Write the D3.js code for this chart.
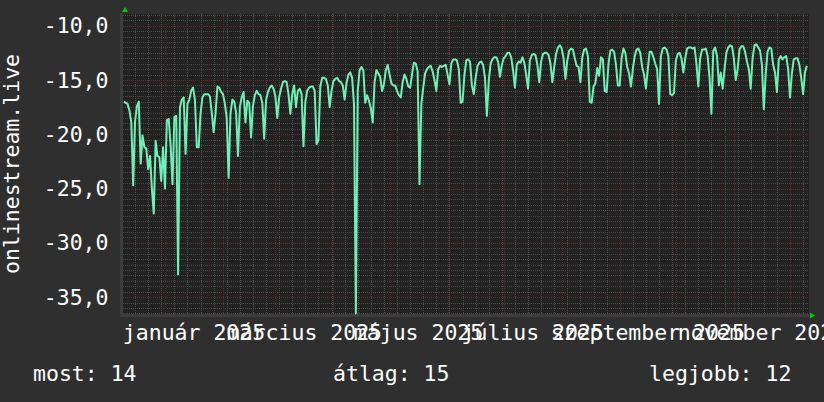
<!DOCTYPE html>
<html><head><meta charset="utf-8">
<script src="https://cdn.jsdelivr.net/npm/d3@7"></script>
<style>html,body{margin:0;padding:0;background:#2f2f2f;}svg{display:block;}</style>
</head><body>
<script>
// ---- data ----
const startDate = Date.UTC(2024, 11, 10);   // first daily sample
const values = [
-17.0,-17.1,-17.2,-17.8,-18.9,-24.7,-18.8,-17.4,-17.0,-22.7,
-20.1,-21.2,-21.3,-23.2,-22.0,-25.0,-27.3,-20.6,-22.0,-22.1,
-24.3,-21.2,-25.0,-18.7,-18.6,-21.0,-24.6,-18.4,-18.3,-32.9,
-17.5,-16.8,-16.6,-21.8,-17.2,-16.8,-16.0,-15.7,-16.8,-21.2,
-21.2,-18.1,-16.6,-16.3,-16.3,-16.3,-16.5,-18.0,-19.8,-18.1,
-15.6,-15.7,-16.1,-16.3,-17.2,-18.5,-24.0,-18.1,-16.8,-17.0,
-18.0,-22.0,-17.5,-16.6,-16.1,-18.9,-16.9,-17.1,-20.3,-17.4,
-16.4,-16.0,-16.3,-16.4,-17.1,-20.4,-16.9,-16.1,-15.7,-15.5,
-15.8,-16.5,-18.5,-16.6,-15.8,-15.2,-15.1,-15.2,-16.3,-18.1,
-16.3,-15.5,-17.5,-16.0,-15.8,-16.3,-21.1,-17.0,-16.0,-15.7,
-15.6,-15.6,-16.0,-20.9,-20.5,-15.6,-14.8,-14.8,-14.9,-15.5,
-17.5,-16.0,-15.1,-14.9,-14.8,-15.1,-15.2,-15.5,-16.8,-15.3,
-14.5,-14.3,-14.8,-17.2,-36.5,-16.0,-14.1,-13.8,-14.1,-17.1,
-16.4,-16.9,-17.6,-18.9,-15.2,-14.1,-14.4,-14.7,-16.0,-15.4,
-14.1,-13.6,-14.5,-15.3,-15.5,-15.5,-16.0,-16.4,-16.6,-15.2,
-14.5,-14.9,-15.6,-15.7,-14.5,-13.4,-13.5,-14.2,-24.6,-17.2,
-15.7,-14.4,-14.0,-13.8,-13.7,-14.2,-15.0,-16.0,-14.0,-13.7,
-13.8,-13.7,-13.6,-14.5,-15.4,-13.5,-13.1,-13.1,-13.2,-14.0,
-17.1,-17.0,-14.6,-13.2,-13.1,-13.3,-15.5,-16.3,-14.8,-13.7,
-13.4,-13.3,-13.6,-14.8,-18.3,-15.1,-13.5,-13.1,-12.9,-12.9,
-13.3,-14.7,-13.6,-13.0,-12.8,-12.5,-12.5,-12.9,-14.1,-15.7,
-13.6,-13.3,-13.4,-12.9,-13.4,-14.5,-15.8,-13.2,-12.7,-12.6,
-12.7,-13.6,-15.2,-13.3,-12.6,-12.5,-12.5,-12.7,-13.5,-15.2,
-13.8,-12.6,-12.0,-11.8,-12.1,-13.0,-14.9,-13.2,-12.3,-12.1,
-12.2,-13.0,-13.7,-13.8,-15.2,-12.9,-12.2,-12.1,-12.8,-17.0,
-17.1,-15.6,-15.3,-13.9,-14.6,-12.9,-13.1,-16.0,-16.1,-13.5,
-12.3,-12.2,-12.4,-13.6,-15.5,-15.5,-13.0,-12.1,-12.5,-13.8,
-14.4,-15.6,-14.0,-12.8,-12.2,-12.1,-12.5,-13.8,-14.5,-15.8,
-14.0,-12.4,-12.4,-12.9,-13.5,-14.0,-17.2,-12.8,-12.1,-12.0,
-12.2,-12.8,-16.3,-16.4,-16.2,-13.2,-12.6,-12.5,-13.0,-14.3,
-13.0,-12.1,-12.0,-12.0,-12.1,-12.0,-13.5,-15.6,-13.0,-12.2,
-12.2,-12.1,-12.8,-14.8,-18.1,-12.3,-12.0,-12.8,-15.5,-14.3,
-15.8,-14.0,-12.5,-12.0,-11.8,-11.9,-13.0,-15.0,-14.0,-12.2,
-11.9,-11.9,-12.4,-13.3,-14.0,-15.8,-13.0,-11.8,-11.7,-12.0,
-12.3,-13.6,-17.7,-14.5,-12.4,-12.0,-12.1,-13.6,-14.3,-16.1,
-13.1,-12.8,-13.1,-12.9,-12.8,-14.0,-16.6,-14.4,-13.1,-13.0,
-13.0,-13.6,-14.8,-16.3,-14.3,-13.7
];
const timeDomain = [Date.UTC(2024, 11, 9, 13, 26), Date.UTC(2025, 11, 11, 3, 40)];
const yDomain = [-36.55, -8.92];
const yMajorTicks = [-35, -30, -25, -20, -15, -10];
const yTickLabels = ["-35,0", "-30,0", "-25,0", "-20,0", "-15,0", "-10,0"];
const monthNames = ["január","február","március","április","május","június","július","augusztus","szeptember","október","november","december"];
const labelMonths = [[2025,0],[2025,2],[2025,4],[2025,6],[2025,8],[2025,10]];
const yTitle = "onlinestream.live";
const legendTexts = ["most: 14", "átlag: 15", "legjobb: 12"];

// ---- layout ----
const W = 824, H = 402;
const L = 123, R = 809, T = 14, B = 314;
const FONT = "'DejaVu Sans Mono', monospace";
const FS = 21.5;

const svg = d3.select("body").append("svg").attr("width", W).attr("height", H);
svg.append("rect").attr("width", W).attr("height", H).attr("fill", "#2f2f2f");

const x = d3.scaleUtc().domain(timeDomain).range([L, R]);
const y = d3.scaleLinear().domain(yDomain).range([B, T]);

// plot background
svg.append("rect").attr("x", L).attr("y", T).attr("width", R - L).attr("height", B - T).attr("fill", "#222222");

const grid = svg.append("g").attr("shape-rendering", "crispEdges").attr("stroke-width", 1).attr("stroke-dasharray", "1,1");

// horizontal minor grid every 0.5
const yMinor = d3.range(Math.ceil(yDomain[0] * 2) / 2, yDomain[1], 0.5).filter(v => Math.abs(v % 5) > 1e-6);
grid.selectAll("line.hmin").data(yMinor).join("line")
  .attr("x1", L).attr("x2", R).attr("y1", d => Math.round(y(d)) + 0.5).attr("y2", d => Math.round(y(d)) + 0.5)
  .attr("stroke", "#474747");
// vertical minor grid weekly (Mondays)
const weeks = d3.utcMonday.range(new Date(timeDomain[0]), new Date(timeDomain[1]));
grid.selectAll("line.vmin").data(weeks).join("line")
  .attr("y1", T).attr("y2", B + 3).attr("x1", d => Math.round(x(d)) + 0.5).attr("x2", d => Math.round(x(d)) + 0.5)
  .attr("stroke", "#4c4c4c");
// major
grid.selectAll("line.hmaj").data(yMajorTicks).join("line")
  .attr("x1", L).attr("x2", R).attr("y1", d => Math.round(y(d)) + 0.5).attr("y2", d => Math.round(y(d)) + 0.5)
  .attr("stroke", "#6a2a2a");
const months = d3.utcMonth.range(new Date(timeDomain[0]), new Date(timeDomain[1]));
grid.selectAll("line.vmaj").data(months).join("line")
  .attr("y1", T).attr("y2", B + 3).attr("x1", d => Math.round(x(d)) + 0.5).attr("x2", d => Math.round(x(d)) + 0.5)
  .attr("stroke", "#5a2a2a");

// axes lines
svg.append("line").attr("x1", L - 1).attr("x2", R + 2).attr("y1", B + 1.5).attr("y2", B + 1.5)
  .attr("stroke", "#3d3d3d").attr("stroke-width", 3);
svg.append("line").attr("x1", L - 1.5).attr("x2", L - 1.5).attr("y1", B + 3).attr("y2", T - 1)
  .attr("stroke", "#3d3d3d").attr("stroke-width", 3);
// arrows
svg.append("path").attr("d", `M${L + 2},${T - 7} L${L + 5},${T - 2} L${L - 1},${T - 2} Z`).attr("fill", "#00cc00");
svg.append("path").attr("d", `M${R + 6},${B + 1.5} L${R + 1},${B - 1.5} L${R + 1},${B + 4.5} Z`).attr("fill", "#00cc00");

// data line
const line = d3.line()
  .x((d, i) => x(startDate + i * 86400000))
  .y(d => y(d));
svg.append("path").datum(values).attr("d", line)
  .attr("fill", "none").attr("stroke", "#6ff0b4").attr("stroke-width", 2).attr("stroke-linejoin", "round");

// y tick labels
svg.selectAll("text.yl").data(yMajorTicks).join("text")
  .attr("x", 108.5).attr("y", d => y(d) + 7.5).attr("text-anchor", "end")
  .attr("font-family", FONT).attr("font-size", FS).attr("fill", "#ffffff")
  .text((d, i) => yTickLabels[i]);

// y title
svg.append("text").attr("transform", `translate(19,${(T + B) / 2}) rotate(-90)`)
  .attr("text-anchor", "middle").attr("font-family", FONT).attr("font-size", FS).attr("fill", "#ffffff")
  .text(yTitle);

// x labels centered mid-month
svg.selectAll("text.xl").data(labelMonths).join("text")
  .attr("x", d => (x(Date.UTC(d[0], d[1], 1)) + x(Date.UTC(d[0], d[1] + 1, 1))) / 2)
  .attr("y", 339.5).attr("text-anchor", "middle")
  .attr("font-family", FONT).attr("font-size", FS).attr("fill", "#ffffff")
  .text(d => monthNames[d[1]] + " " + d[0]);

// legend
const legendX = [33, 333, 649];
svg.selectAll("text.lg").data(legendTexts).join("text")
  .attr("x", (d, i) => legendX[i]).attr("y", 381)
  .attr("font-family", FONT).attr("font-size", FS).attr("fill", "#ffffff")
  .text(d => d);
</script>
</body></html>
